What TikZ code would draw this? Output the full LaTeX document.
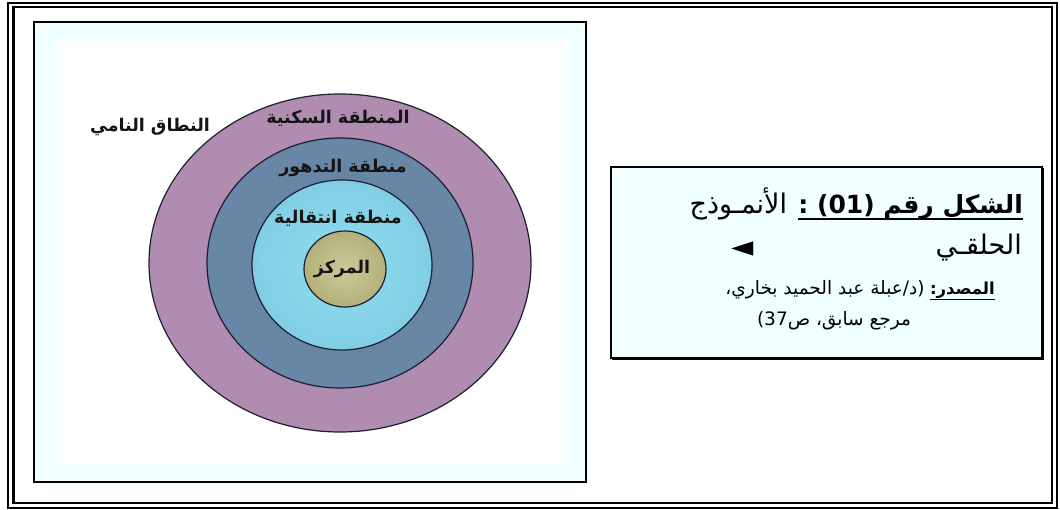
\documentclass[tikz,border=0pt]{standalone}
\usepackage{fontspec}
\usetikzlibrary{calc}
\TeXXeTstate=1
\newfontfamily\arabicfont[Script=Arabic]{DejaVu Sans}
\newfontfamily\symfont{DejaVu Sans}
\definecolor{boxcyan}{HTML}{F0FFFF}
\definecolor{ringline}{HTML}{1A2030}
\pgfdeclareradialshading{pinkring}{\pgfpoint{0bp}{0bp}}{rgb(0bp)=(0.69,0.55,0.69); rgb(35bp)=(0.69,0.55,0.69); rgb(50bp)=(0.80,0.66,0.79)}
\pgfdeclareradialshading{bluering}{\pgfpoint{0bp}{0bp}}{rgb(0bp)=(0.40,0.52,0.645); rgb(34bp)=(0.41,0.53,0.655); rgb(50bp)=(0.486,0.596,0.714)}
\pgfdeclareradialshading{cyanring}{\pgfpoint{0bp}{0bp}}{rgb(0bp)=(0.56,0.86,0.93); rgb(21bp)=(0.52,0.82,0.91); rgb(50bp)=(0.38,0.68,0.79)}
\pgfdeclareradialshading{olivering}{\pgfpoint{0bp}{0bp}}{rgb(0bp)=(0.80,0.792,0.596); rgb(50bp)=(0.604,0.588,0.369)}
\tikzset{
  lbl/.style={font=\arabicfont\bfseries\fontsize{17.5}{20}\selectfont, text=black!92, inner sep=0pt},
  bigtxt/.style={font=\arabicfont\fontsize{27}{30}\selectfont, inner sep=0pt, anchor=base east},
  bigbold/.style={font=\arabicfont\bfseries\fontsize{25}{28}\selectfont, inner sep=0pt, anchor=base east},
  smalltxt/.style={font=\arabicfont\fontsize{18.5}{21}\selectfont, inner sep=0pt, anchor=base east},
  smallbold/.style={font=\arabicfont\bfseries\fontsize{16.5}{19}\selectfont, inner sep=0pt, anchor=base east},
  ring/.style={draw=ringline, line width=1.2pt},
  uline/.style={line width=1.5pt},
}
\begin{document}
\begin{tikzpicture}[x=1pt,y=-1pt]
\useasboundingbox (0,0) rectangle (1060,510);
% outer double frame
\draw[line width=2pt] (8,3) rectangle (1057,508);
\draw[line width=2.5pt] (13.5,7) rectangle (1052,503);
% left picture box
\draw[fill=boxcyan, line width=1.3pt] (34,22) rectangle (586,482);
\fill[white] (57,40) rectangle (567,463);
% rings
\shade[shading=pinkring] (340,263) ellipse [x radius=191pt, y radius=169pt];
\draw[ring] (340,263) ellipse [x radius=191pt, y radius=169pt];
\shade[shading=bluering] (340,263) ellipse [x radius=133pt, y radius=125pt];
\draw[ring] (340,263) ellipse [x radius=133pt, y radius=125pt];
\shade[shading=cyanring] (342,265) ellipse [x radius=90pt, y radius=85pt];
\draw[ring] (342,265) ellipse [x radius=90pt, y radius=85pt];
\shade[shading=olivering] (345,269) ellipse [x radius=41pt, y radius=38pt];
\draw[ring] (345,269) ellipse [x radius=41pt, y radius=38pt];
% ring labels
\node[lbl] (n1) at (150,127) {\beginR النطاق النامي\endR};
\node[lbl] (n2) at (338,118) {\beginR المنطقة السكنية\endR};
\node[lbl] (n3) at (343,168) {\beginR منطقة التدهور\endR};
\node[lbl] (n4) at (338,218) {\beginR منطقة انتقالية\endR};
\node[lbl] (n5) at (342,269) {\beginR المركز\endR};
% caption box
\draw[fill=boxcyan, line width=1.6pt] (611,167) rectangle (1042,358);
\draw[line width=1.2pt] (1043.5,168) -- (1043.5,359.5) -- (612,359.5);
\node[bigbold] (t1a) at (1023,214) {\beginR الشكل رقم (01) :\endR};
\node[bigtxt] (t1b) at ($(t1a.base west)+(-11,0)$) {\beginR الأنمـوذج\endR};
\draw[uline] ($(t1a.base west)+(0,5)$) -- ($(t1a.base east)+(0,5)$);
\node[bigtxt] (t2) at (1022,255) {\beginR الحلقـي\endR};
\node[font=\symfont\fontsize{29}{32}\selectfont, inner sep=0pt] (tri) at (743,249) {◄};
\node[smallbold] (t3a) at (995,295) {\beginR المصدر:\endR};
\node[smalltxt] (t3b) at ($(t3a.base west)+(-5,0)$) {\beginR (د/عبلة عبد الحميد بخاري،\endR};
\draw[uline] ($(t3a.base west)+(0,4.5)$) -- ($(t3a.base east)+(0,4.5)$);
\node[smalltxt, anchor=base] (t4) at (834,326) {\beginR مرجع سابق، ص37)\endR};
\end{tikzpicture}
\end{document}
